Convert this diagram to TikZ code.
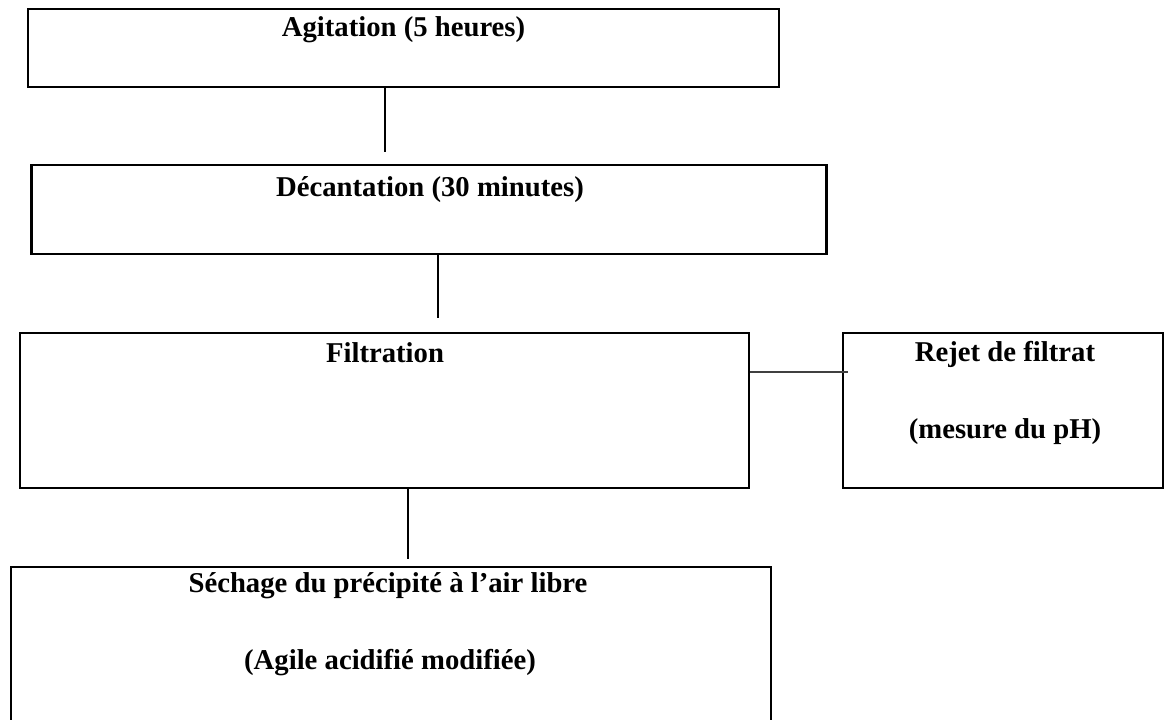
\documentclass[tikz,border=0pt]{standalone}
\usepackage{fontspec}
\setmainfont{Liberation Serif}

\begin{document}
\begin{tikzpicture}[x=1pt,y=-1pt,
    stepbox/.style={draw,line width=2.3pt,inner sep=0pt},
    steptext/.style={anchor=base,inner sep=0pt,font=\fontsize{28.7}{34}\selectfont\bfseries},
    link/.style={line width=1.6pt}]
    \useasboundingbox (0,0) rectangle (1168,720);
    \clip (0,0) rectangle (1168,720);

    % boxes
    \node[stepbox,minimum width=751pt,minimum height=78pt] (agit) at (403.5,48) {};
    \node[stepbox,minimum width=795pt,minimum height=89pt] (decant) at (429,209.5) {};
    \node[stepbox,minimum width=729pt,minimum height=155pt] (filt) at (384.5,410.5) {};
    \node[stepbox,minimum width=320pt,minimum height=155pt] (rejet) at (1003,410.5) {};
    \node[stepbox,minimum width=760pt,minimum height=173pt] (sech) at (391,653.5) {};

    % texts
    \node[steptext] (agit-t) at (403.5,36) {Agitation (5 heures)};
    \node[steptext] (decant-t) at (430,196) {Décantation (30 minutes)};
    \node[steptext] (filt-t) at (385,362) {Filtration};
    \node[steptext] (rejet-t1) at (1005,361) {Rejet de filtrat};
    \node[steptext] (rejet-t2) at (1005,438) {(mesure du pH)};
    \node[steptext] (sech-t1) at (388,592) {Séchage du précipité à l’air libre};
    \node[steptext] (sech-t2) at (390,669) {(Agile acidifié modifiée)};

    % connectors
    \draw[link,shorten >=12pt] ([xshift=-18.5pt]agit.south) -- ([xshift=-18.5pt]agit.south |- decant.north);
    \draw[link,shorten >=14pt] ([xshift=9pt]decant.south) -- ([xshift=9pt]decant.south |- filt.north);
    \draw[link,black!75,line width=2pt,shorten >=-6pt] ([yshift=38.8pt]filt.east) -- ([yshift=38.8pt]filt.east -| rejet.west);
    \draw[link,shorten >=7pt] ([xshift=23.5pt]filt.south) -- ([xshift=23.5pt]filt.south |- sech.north);
\end{tikzpicture}
\end{document}
